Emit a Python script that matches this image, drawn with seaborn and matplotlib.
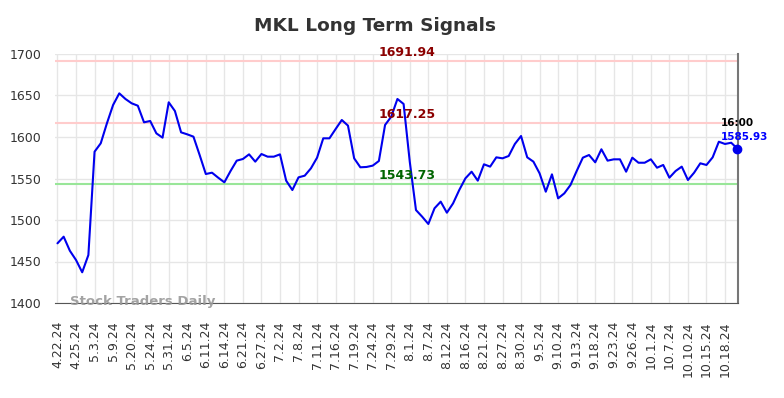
import matplotlib
matplotlib.use("Agg")
import matplotlib.pyplot as plt
import seaborn as sns
import numpy as np
import pandas as pd

# closing prices, one per trading day
prices = [
    1471.9, 1479.9, 1463.0, 1451.8, 1437.0, 1457.8, 1582.3, 1592.4, 1616.5, 1638.6,
    1652.6, 1645.8, 1640.6, 1637.7, 1617.7, 1619.3, 1604.4, 1599.2, 1641.8, 1631.3,
    1605.6, 1603.2, 1600.4, 1578.3, 1555.4, 1557.0, 1551.0, 1545.4, 1559.0, 1571.5,
    1573.5, 1579.1, 1570.3, 1579.5, 1576.3, 1576.3, 1579.1, 1547.4, 1536.1, 1551.4,
    1553.4, 1562.2, 1575.1, 1598.4, 1598.4, 1609.6, 1620.5, 1613.7, 1574.3, 1563.5,
    1563.9, 1565.5, 1571.1, 1614.5, 1624.5, 1645.8, 1639.8, 1570.0, 1512.0, 1504.0,
    1495.2, 1514.1, 1522.1, 1508.8, 1520.0, 1536.1, 1550.2, 1558.2, 1547.4, 1567.1,
    1564.3, 1575.5, 1574.3, 1577.1, 1591.6, 1601.2, 1575.5, 1570.3, 1556.2, 1534.1,
    1555.0, 1526.1, 1532.1, 1542.2, 1559.0, 1575.1, 1578.3, 1569.5, 1585.2, 1571.5,
    1573.1, 1573.1, 1558.2, 1575.1, 1569.0, 1569.0, 1573.1, 1563.0, 1566.3, 1551.0,
    1559.0, 1564.3, 1548.2, 1557.0, 1568.3, 1566.3, 1575.5, 1594.3, 1591.6, 1593.1,
    1585.93,
]

tick_labels = [
    "4.22.24", "4.25.24", "5.3.24", "5.9.24", "5.20.24", "5.24.24", "5.31.24",
    "6.5.24", "6.11.24", "6.14.24", "6.21.24", "6.27.24", "7.2.24", "7.8.24",
    "7.11.24", "7.16.24", "7.19.24", "7.24.24", "7.29.24", "8.1.24", "8.7.24",
    "8.12.24", "8.16.24", "8.21.24", "8.27.24", "8.30.24", "9.5.24", "9.10.24",
    "9.13.24", "9.18.24", "9.23.24", "9.26.24", "10.1.24", "10.7.24", "10.10.24",
    "10.15.24", "10.18.24",
]

resistance_hi = 1691.94
resistance_lo = 1617.25
support = 1543.73
last_time = "16:00"

df = pd.DataFrame({"idx": np.arange(len(prices)), "price": prices})

sns.set_style("whitegrid")
plt.rcParams["font.family"] = ["DejaVu Sans"]

fig = plt.figure(figsize=(7.84, 3.98), dpi=100)
ax = fig.add_axes([55 / 784, 1 - 303 / 398, (738 - 55) / 784, (303 - 54) / 398])

# signal levels
ax.axhline(resistance_hi, color="#ffcccc", lw=1.5, zorder=1)
ax.axhline(resistance_lo, color="#ffcccc", lw=1.5, zorder=1)
ax.axhline(support, color="#99e699", lw=1.5, zorder=1)

sns.lineplot(data=df, x="idx", y="price", color="#0000ee", lw=1.5, ax=ax, zorder=3)
ax.plot(df["idx"].iloc[-1], prices[-1], "o", color="#0000ee", ms=6, clip_on=False, zorder=4)

ax.set_xlim(-0.4, len(prices) - 1 + 0.1)
ax.set_ylim(1400, 1700)
ax.set_xticks(np.arange(0, len(tick_labels) * 3, 3))
ax.set_xticklabels(tick_labels, rotation=90, fontsize=9, color="#333333")
ax.set_yticks(np.arange(1400, 1701, 50))
ax.tick_params(axis="y", labelsize=9, labelcolor="#333333", length=0, pad=10)
ax.tick_params(axis="x", length=0, pad=13)
ax.set_xlabel("")
ax.set_ylabel("")
ax.grid(True, color="#e6e6e6", lw=1)

for side in ["top", "left"]:
    ax.spines[side].set_visible(False)
ax.spines["bottom"].set_color("#555555")
ax.spines["right"].set_color("#777777")
ax.spines["right"].set_linewidth(1.5)

mid = 56.5
ax.text(mid, resistance_hi + 1.5, f"{resistance_hi:.2f}", color="#8b0000",
        fontsize=9, fontweight="bold", ha="center", va="bottom")
ax.text(mid, resistance_lo + 1.5, f"{resistance_lo:.2f}", color="#8b0000",
        fontsize=9, fontweight="bold", ha="center", va="bottom")
ax.text(mid, support + 1.5, f"{support:.2f}", color="#006400",
        fontsize=9, fontweight="bold", ha="center", va="bottom")

ax.text(107.3, 1616.5, last_time, color="black", fontsize=7.5, fontweight="bold",
        ha="left", va="center")
ax.text(107.3, 1599.5, f"{prices[-1]:.2f}", color="#0000ff", fontsize=7.5,
        fontweight="bold", ha="left", va="center")

ax.text(2.0, 1401.5, "Stock Traders Daily", color="#999999", fontsize=9.5,
        fontweight="bold", ha="left", va="center", alpha=0.9)

fig.text(375 / 784, 1 - 26 / 398, "MKL Long Term Signals", fontsize=13.3,
         fontweight="bold", color="#333333", ha="center", va="center")

fig.savefig("out.png", dpi=100)
